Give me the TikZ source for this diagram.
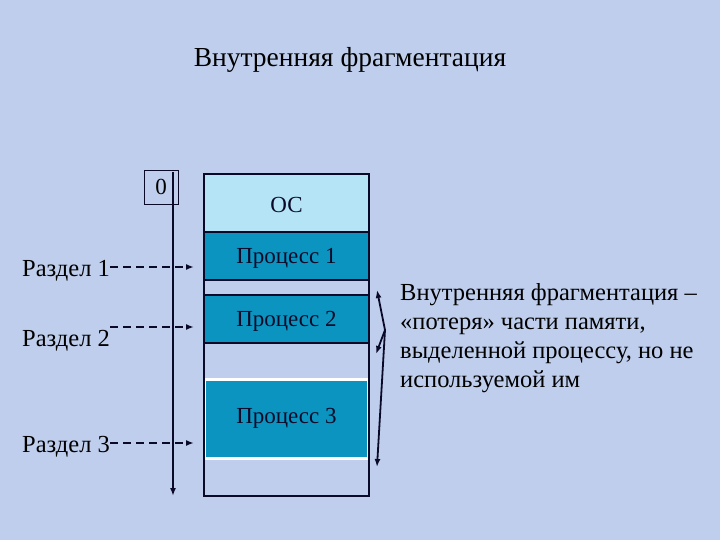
\documentclass[tikz,border=0pt]{standalone}
\usepackage{fontspec}
\setmainfont{Liberation Serif}
\usetikzlibrary{arrows.meta}
\definecolor{bg}{RGB}{190,206,236}
\definecolor{osc}{RGB}{180,228,246}
\definecolor{proc}{RGB}{12,148,192}
\definecolor{ink}{RGB}{10,10,40}
\begin{document}
\begin{tikzpicture}[x=1pt,y=-1pt,
  seg/.style={draw=ink,line width=1.8pt},
  lbl/.style={font=\fontsize{24.5}{26}\selectfont,inner sep=0pt},
  ptxt/.style={font=\fontsize{23}{25}\selectfont,text=ink},
  dasharrow/.style={dash pattern=on 8pt off 5pt,line width=2pt,-{Latex[length=8pt,width=6pt]},draw=ink},
  arr/.style={line width=1.8pt,-{Latex[length=8pt,width=6pt]},draw=ink}]
\fill[bg] (0,0) rectangle (720,540);
\useasboundingbox (0,0) rectangle (720,540);
\node[font=\fontsize{27.5}{30}\selectfont] (title) at (350,60) {Внутренняя фрагментация};
% memory
\draw[seg,fill=bg] (204,174) rectangle (369,496);
\draw[seg,fill=osc] (204,174) rectangle (369,232);
\node[ptxt] (os) at (286.5,205) {ОС};
\draw[seg,fill=proc] (204,232) rectangle (369,280);
\node[ptxt] (p1) at (286.5,258) {Процесс 1};
\draw[seg,fill=proc] (204,295) rectangle (369,343);
\node[ptxt] (p2) at (286.5,321) {Процесс 2};
\fill[white] (204,378) rectangle (369,460);
\fill[proc] (206,381) rectangle (367,457);
\node[ptxt] (p3) at (286.5,418) {Процесс 3};
\draw[seg] (204,174) rectangle (369,496);
% axis
\node[draw=ink,line width=0.8pt,minimum width=34pt,minimum height=34pt,inner sep=0pt,font=\fontsize{23}{25}\selectfont] (zero) at (161,187) {0};
\coordinate (ax0) at (173,172);
\coordinate (ax1) at (173,496);
\draw[arr] (ax0) -- (ax1);
% labels
\node[lbl,anchor=west] (r1) at (22,271) {Раздел 1};
\node[lbl,anchor=west] (r2) at (22,341) {Раздел 2};
\node[lbl,anchor=west] (r3) at (22,447) {Раздел 3};
\coordinate (d1a) at (110,267); \coordinate (d1b) at (194,267);
\coordinate (d2a) at (110,327); \coordinate (d2b) at (194,327);
\coordinate (d3a) at (110,443); \coordinate (d3b) at (194,443);
\draw[dasharrow] (d1a) -- (d1b);
\draw[dasharrow] (d2a) -- (d2b);
\draw[dasharrow] (d3a) -- (d3b);
% brace
\coordinate (j) at (385,330);
\coordinate (t1) at (377,290);
\coordinate (t2) at (376,354);
\coordinate (t3) at (377,467);
\draw[arr] (j) -- (t1);
\draw[arr] (j) -- (t2);
\draw[arr] (j) -- (t3);
\node[anchor=north west,align=left,font=\fontsize{24.5}{29}\selectfont,inner sep=0pt] (desc) at (400,283)
 {Внутренняя фрагментация –\\«потеря» части памяти,\\выделенной процессу, но не\\используемой им};
\end{tikzpicture}
\end{document}
